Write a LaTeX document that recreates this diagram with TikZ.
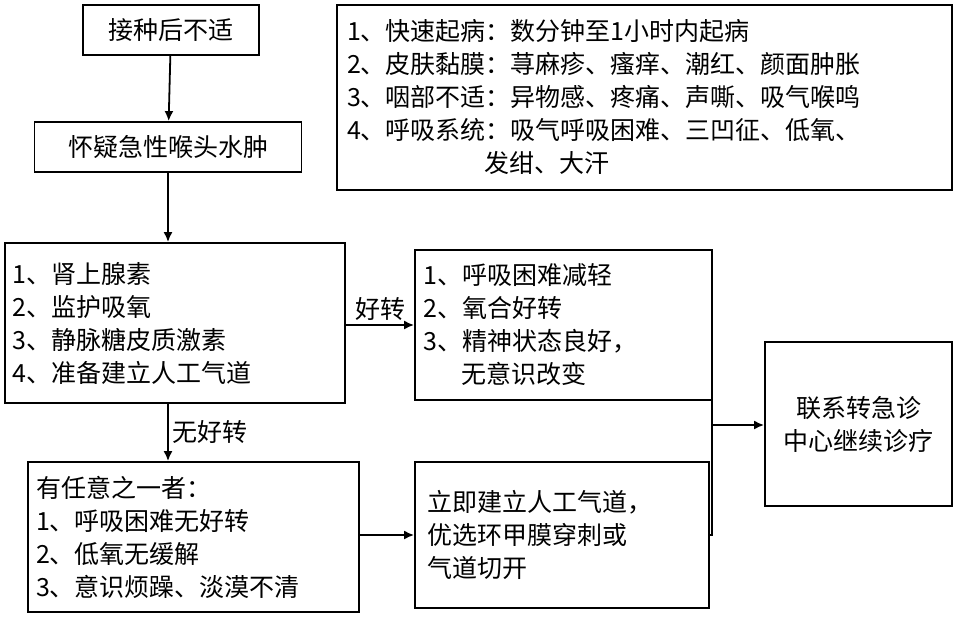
\documentclass[tikz,border=0pt]{standalone}
\usepackage{fontspec}
\setmainfont{Noto Sans CJK SC}
\usetikzlibrary{positioning,arrows.meta}
\tikzset{
  box/.style={draw, line width=1.8pt, inner sep=0pt, font=\fontsize{25}{33}\selectfont},
  flow/.style={line width=1.8pt, -{Latex[length=10pt,width=9pt]}}
}
\begin{document}
\begin{tikzpicture}[x=1pt,y=-1pt]
  \useasboundingbox (0,0) rectangle (957,618);
  % boxes
  \node[box, minimum width=176, minimum height=50] (start) at (171,30) {接种后不适};
  \node[box, minimum width=267, minimum height=50] (suspect) at (168,147) {怀疑急性喉头水肿};
  \node[box, minimum width=615, minimum height=185, align=left, text width=595] (signs) at (644.5,97.5)
    {1、快速起病：数分钟至1小时内起病\\2、皮肤黏膜：荨麻疹、瘙痒、潮红、颜面肿胀\\3、咽部不适：异物感、疼痛、声嘶、吸气喉鸣\\4、呼吸系统：吸气呼吸困难、三凹征、低氧、\\\hspace*{5.5em}发绀、大汗};
  \node[box, minimum width=340, minimum height=160, align=left, text width=325] (treat) at (175,323)
    {1、肾上腺素\\2、监护吸氧\\3、静脉糖皮质激素\\4、准备建立人工气道};
  \node[box, minimum width=297, minimum height=150, align=left, text width=280] (better) at (563.5,325)
    {1、呼吸困难减轻\\2、氧合好转\\3、精神状态良好，\\\hspace*{1.5em}无意识改变};
  \node[box, minimum width=187, minimum height=164, align=center] (refer) at (858.5,424)
    {联系转急诊\\中心继续诊疗};
  \node[box, minimum width=331, minimum height=150, align=left, text width=315] (worse) at (193.5,537)
    {有任意之一者：\\1、呼吸困难无好转\\2、低氧无缓解\\3、意识烦躁、淡漠不清};
  \node[box, minimum width=294, minimum height=146, align=left, text width=270] (airway) at (562,535)
    {立即建立人工气道，\\优选环甲膜穿刺或\\气道切开};
  \coordinate (join) at (712,425);
  % connectors
  \draw[flow] (start) -- (suspect);
  \draw[flow] (suspect.south) -- (suspect.south |- treat.north);
  \draw[flow] (treat.south -| suspect.south) -- (worse.north -| suspect.south)
    node[midway, right, font=\fontsize{25}{30}\selectfont] {无好转};
  \draw[flow] (treat.east |- better.west) -- (better.west)
    node[midway, above, font=\fontsize{25}{30}\selectfont] {好转};
  \draw[flow] (worse.east |- airway.west) -- (airway.west);
  \draw[line width=1.8pt] (better.south east) ++(-1,0) coordinate (b1) -- (b1 |- airway.east) -- (airway.east);
  \draw[flow] (join) -- (join -| refer.west);
\end{tikzpicture}
\end{document}
